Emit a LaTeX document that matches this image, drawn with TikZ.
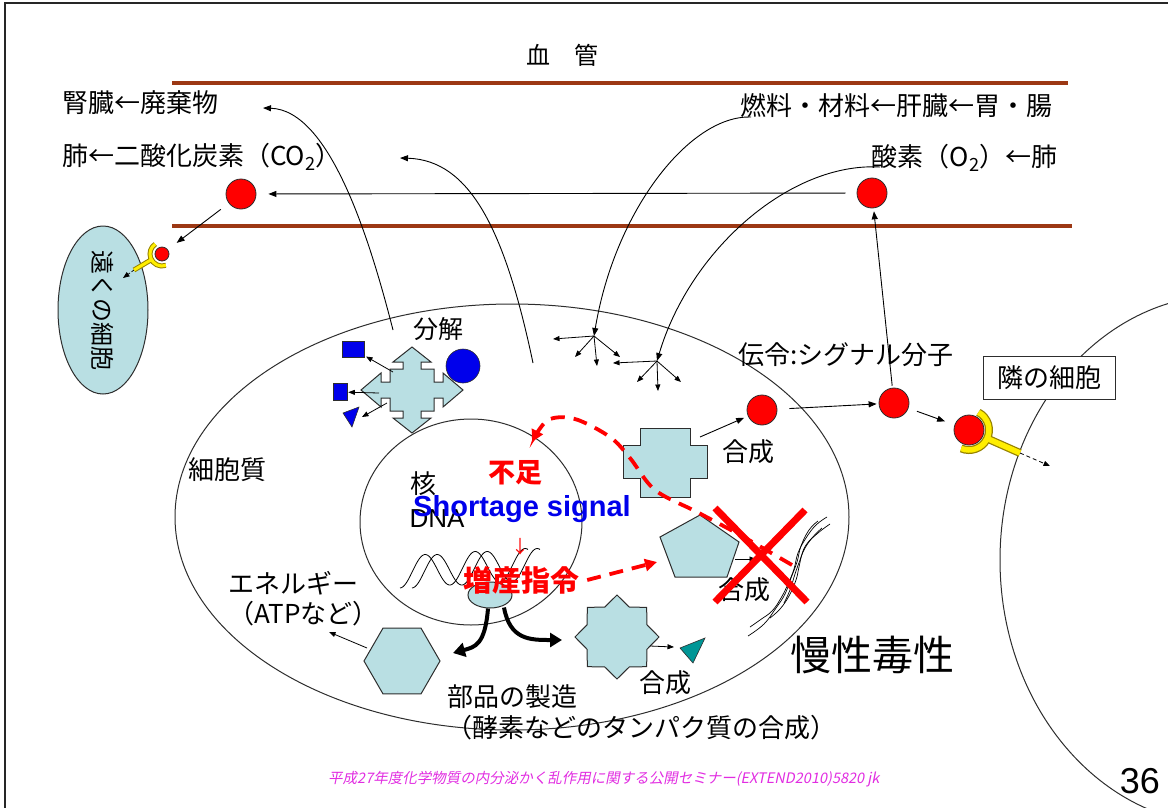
\documentclass[tikz,border=0pt]{standalone}
\usepackage{fontspec}
\setmainfont{Noto Sans CJK JP}
\newfontfamily\arialfont{Liberation Sans}
\newfontfamily\slantjp[FakeSlant=0.2]{Noto Sans CJK JP}
\usetikzlibrary{arrows.meta,shapes.geometric,calc}

\definecolor{vesselbrown}{RGB}{156,56,20}
\definecolor{paleblue}{RGB}{185,223,227}
\definecolor{darkteal}{RGB}{0,150,150}
\definecolor{footpink}{RGB}{225,45,225}
\definecolor{rcptyellow}{RGB}{255,238,0}
\definecolor{rcptedge}{RGB}{150,130,0}
\definecolor{pureblue}{RGB}{0,0,235}
\definecolor{outline}{RGB}{45,45,45}

\newcommand{\fsz}[1]{\fontsize{#1}{#1}\selectfont}

\begin{document}
\begin{tikzpicture}[x=1pt,y=-1pt,
  txt/.style={inner sep=0pt, font=\fsz{26}},
  arr/.style={draw=black, line width=0.9pt, -{Triangle[length=8pt,width=6pt]}},
  smallarr/.style={draw=black, line width=0.8pt, -{Triangle[length=6.5pt,width=5pt]}},
  vessel/.style={draw=vesselbrown, line width=4pt},
  membrane/.style={draw=outline, line width=1pt},
  part/.style={draw=outline, fill=paleblue, line width=1pt},
  molecule/.style={circle, draw=outline, fill=red, line width=0.8pt, minimum size=30pt, inner sep=0pt},
  blueitem/.style={draw=outline, fill=pureblue, line width=0.6pt, inner sep=0pt},
  orderdash/.style={draw=red, line width=3.8pt, dash pattern=on 14pt off 9pt, -{Triangle[length=12pt,width=12pt]}},
  bigarr/.style={draw=black, line width=4pt, -{Triangle[length=12pt,width=14pt]}},
  cupedge/.style={draw=rcptedge, line width=8pt},
  cupfill/.style={draw=rcptyellow, line width=5.5pt},
  fibre/.style={draw=black, line width=0.7pt},
  redcross/.style={draw=red, line width=7pt},
]
\useasboundingbox (0,0) rectangle (1168,807);
\clip (0,0) rectangle (1168,807);
\draw[line width=2pt, black!85] (5,3) rectangle (1185,825);

% blood vessel
\node[txt, font=\fsz{24}] (title) at (562,55) {血　管};
\draw[vessel] (172,83) -- (1068,83);
\draw[vessel] (172,226) -- (1072,226);

\node[txt, anchor=west] (waste) at (62,103) {腎臓←廃棄物};
\node[txt, anchor=west] (co2label) at (62,157) {肺←二酸化炭素（CO\textsubscript{2}）};
\node[txt, anchor=east] (fuel) at (1053,106) {燃料・材料←肝臓←胃・腸};
\node[txt, anchor=east] (o2label) at (1058,158) {酸素（O\textsubscript{2}）←肺};

% cells
\node[ellipse, membrane, minimum width=674pt, minimum height=426pt, inner sep=0pt] (cell) at (512,517) {};
\node[ellipse, membrane, minimum width=222pt, minimum height=206pt, inner sep=0pt] (nucleus) at (471,522) {};
\node[ellipse, membrane, minimum width=450pt, minimum height=530pt, inner sep=0pt] (neighbour) at (1225,560) {};
\node[ellipse, part, minimum width=90pt, minimum height=168pt, inner sep=0pt] (farcell) at (103,310) {};
\node[txt, font=\fsz{24}, rotate=-90] (farlabel) at (farcell.center) {遠くの細胞};
\node[draw=outline, fill=white, line width=1pt, txt, minimum width=132pt, minimum height=43pt] (nbrbox) at (1049,378) {隣の細胞};

% receptors
\coordinate (farsigc) at (162,254);
\coordinate (farstem) at (134,270);
\coordinate (farend) at (123,278);
\draw[cupedge, line width=5pt] ([shift={(71:12)}]farsigc) arc[start angle=71, end angle=236, radius=12]
  ([shift={(152:12)}]farsigc) -- (farstem);
\draw[cupfill, line width=3pt] ([shift={(71:12)}]farsigc) arc[start angle=71, end angle=236, radius=12]
  ([shift={(152:12)}]farsigc) -- (farstem);
\draw[smallarr, dash pattern=on 3pt off 2pt, line width=0.7pt] (farstem) -- (farend);

\coordinate (sig3c) at (969,430);
\coordinate (nbrstem) at (1020,453);
\coordinate (nbrend) at (1050,466);
\draw[cupedge] ([shift={(-62:20)}]sig3c) arc[start angle=-62, end angle=113, radius=20]
  ([shift={(25:20)}]sig3c) -- (nbrstem);
\draw[cupfill] ([shift={(-62:20)}]sig3c) arc[start angle=-62, end angle=113, radius=20]
  ([shift={(25:20)}]sig3c) -- (nbrstem);
\draw[smallarr, dash pattern=on 4pt off 3pt, line width=0.8pt] (nbrstem) -- (nbrend);

% molecules
\node[molecule] (co2) at (241,194) {};
\node[molecule] (o2) at (872,193) {};
\node[molecule] (sig1) at (762,410) {};
\node[molecule] (sig2) at (894,403) {};
\node[molecule] (sig3) at (sig3c) {};
\node[molecule, minimum size=14pt] (farsig) at (farsigc) {};

\draw[arr, shorten <=11pt, shorten >=12pt] (o2) -- (co2);
\draw[arr, shorten <=10pt, shorten >=11pt] (co2) -- (farsig);
\draw[arr, shorten <=2pt, shorten >=3pt] (sig2) -- (o2);
\draw[arr, shorten <=12pt, shorten >=2pt] (sig1) -- (sig2);
\draw[arr, shorten <=9pt, shorten >=10pt] (sig2) -- (sig3);

% exchange with the blood
\coordinate (wastefrom) at (393,330);
\coordinate (wasteto) at (263,108);
\coordinate (co2from) at (533,363);
\coordinate (co2to) at (400,158);
\coordinate (fuelfrom) at (751,117);
\coordinate (hubA) at (594,336);
\coordinate (o2from) at (880,167);
\coordinate (hubB) at (657,361);
\draw[arr] (wastefrom) .. controls (370,240) and (330,110) .. (wasteto);
\draw[arr] (co2from) .. controls (505,230) and (470,160) .. (co2to);
\draw[arr] (fuelfrom) .. controls (690,115) and (615,210) .. (hubA);
\draw[arr] (o2from) .. controls (790,162) and (690,250) .. (hubB);

\foreach \p in {(553,339),(575,357),(597,366),(620,357)}
  \draw[smallarr] (hubA) -- \p;
\foreach \p in {(613,363),(637,382),(658,391),(681,382)}
  \draw[smallarr] (hubB) -- \p;

% breakdown
\begin{scope}[shift={(412,390)}]
\draw[part] (0,-43) -- (19,-28) -- (9,-28) -- (9,-21) -- (22,-21) -- (22,-8) -- (31,-8) -- (31,-17) -- (51,0)
  -- (31,17) -- (31,8) -- (22,8) -- (22,21) -- (9,21) -- (9,28) -- (19,28) -- (0,43)
  -- (-19,28) -- (-9,28) -- (-9,21) -- (-22,21) -- (-22,8) -- (-31,8) -- (-31,17) -- (-51,0)
  -- (-31,-17) -- (-31,-8) -- (-22,-8) -- (-22,-21) -- (-9,-21) -- (-9,-28) -- (-19,-28) -- cycle;
\end{scope}
\node[txt, font=\fsz{25}] (breakdown) at (438,329) {分解};
\node[blueitem, rectangle, minimum width=22pt, minimum height=16pt] (bsq) at (353,349) {};
\node[blueitem, rectangle, minimum width=14pt, minimum height=17pt] (brect) at (340,392) {};
\node[blueitem, circle, minimum size=34pt] (bball) at (463,366) {};
\draw[blueitem] (343,413) -- (359,407) -- (352,427) -- cycle;
\coordinate (btri) at (362,417);
\draw[smallarr, shorten >=2pt] (393,372) -- (bsq);
\draw[smallarr, shorten >=1pt] (379,393) -- (brect);
\draw[smallarr] (387,403) -- (btri);

% signalling
\node[txt, anchor=west] (signal) at (738,355) {伝令:シグナル分子};
\draw[part] (640,428) -- (690,428) -- (690,445) -- (707,445) -- (707,478) -- (690,478) -- (690,497)
  -- (640,497) -- (640,478) -- (623,478) -- (623,445) -- (640,445) -- cycle;
\coordinate (plusout) at (700,437);
\draw[arr, shorten >=4pt] (plusout) -- (sig1);
\node[txt] (synth1) at (748,452) {合成};

% pentagon and toxic damage
\draw[part] (660,537) -- (700,515) -- (739,542) -- (727,577) -- (675,577) -- cycle;
\draw[smallarr] (735,559) -- (756,559);
\node[txt] (synth2) at (744,590) {合成};
\draw[fibre] plot[smooth, tension=0.7] coordinates {(827,517) (816,525) (806,538) (798,553) (794,569) (788,584) (781,598) (772,611) (760,620) (750,627)};
\draw[fibre] plot[smooth, tension=0.7] coordinates {(818,521) (809,530) (801,546) (797,562) (791,578) (785,594) (776,608) (764,624) (748,636)};
\draw[fibre] plot[smooth, tension=0.7] coordinates {(830,524) (818,533) (806,545) (800,560) (795,574) (790,590) (784,603)};
\draw[fibre] plot[smooth, tension=0.7] coordinates {(822,528) (812,538) (803,552) (799,567) (796,580) (789,596) (780,609) (770,618)};

% octagonal star and hexagon
\node[star, star points=8, star point ratio=1.3, minimum size=84pt, part, inner sep=0pt] (oct) at (617,637) {};
\draw[smallarr] (650,646) -- (674,647);
\draw[draw=outline, fill=darkteal, line width=0.6pt] (680,648) -- (705,638) -- (693,663) -- cycle;
\node[txt] (synth3) at (665,683) {合成};
\node[regular polygon, regular polygon sides=6, minimum size=76pt, part, inner sep=0pt] (hex) at (402,661) {};
\coordinate (atpto) at (329,632);
\draw[smallarr] (367,648) -- (atpto);
\node[txt, anchor=west] (energy) at (228,583) {エネルギー};
\node[txt, anchor=west] (atp) at (228,614) {（ATPなど）};
\node[txt, anchor=west] (parts) at (447,697) {部品の製造};
\node[txt, anchor=west] (enzymes) at (446,728) {（酵素などのタンパク質の合成）};
\node[txt, anchor=west] (cytoplasm) at (188,470) {細胞質};

% nucleus contents
\draw[line width=0.8pt] plot[domain=400:528, samples=90] (\x, {572 - 0.06*(\x-400) + 16*cos(7.2*(\x-400))});
\draw[line width=0.8pt] plot[domain=412:540, samples=90] (\x, {572 - 0.06*(\x-412) + 16*cos(7.2*(\x-412))});
\node[ellipse, part, minimum width=44pt, minimum height=26pt, inner sep=0pt] (rna) at (490,595) {};
\coordinate (leftprod) at (453,653);
\coordinate (rightprod) at (562,640);
\draw[bigarr] (rna.south) ++(-2,0) .. controls (485,645) and (475,647) .. (leftprod);
\draw[bigarr] (rna.south) ++(14,-1) .. controls (510,640) and (530,640) .. (rightprod);

\node[txt] (kaku) at (423,484) {核};
\node[txt, font=\arialfont\fsz{26}] (dna) at (437,519) {DNA};
\node[txt, font=\arialfont\bfseries\fsz{29}, text=pureblue] (shortage) at (522,509) {Shortage signal};
\node[txt, font=\bfseries\fsz{27}, text=red] (lack) at (515,473) {不足};
\node[txt, font=\fsz{18}, text=red] (down) at (520,547) {↓};
\node[txt, font=\bfseries\fsz{29}, text=red] (order) at (521,580) {増産指令};

% feedback signals
\coordinate (lossstart) at (792,565);
\coordinate (nucleusin) at (532,442);
\draw[orderdash] plot[smooth, tension=0.55] coordinates {(lossstart) (740,535) (697,512) (655,490) (630,458) (610,437) (575,419) (548,420) (nucleusin)};
\coordinate (pentin) at (657,562);
\draw[orderdash] (order.east) ++(8,0) -- (pentin);

\draw[redcross] (715,508) -- (807,602);
\draw[redcross] (805,510) -- (715,602);

\node[txt, font=\fsz{41}, anchor=west] (chronic) at (790,655) {慢性毒性};

% footer
\node[txt, font=\slantjp\fsz{14.5}, text=footpink, anchor=west] (footer) at (328,779) {平成27年度化学物質の内分泌かく乱作用に関する公開セミナー(EXTEND2010)5820 jk};
\node[txt, font=\arialfont\fsz{36}, anchor=east] (page) at (1160,781) {36};
\end{tikzpicture}
\end{document}
